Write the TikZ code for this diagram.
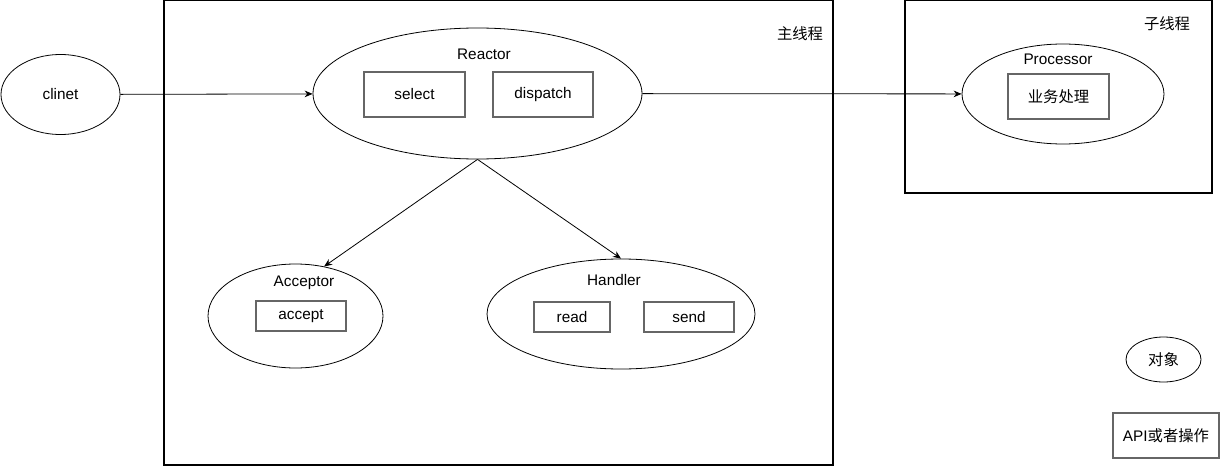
\documentclass[tikz,border=0pt]{standalone}
\usepackage{fontspec}
\setmainfont{Liberation Sans}
\newfontfamily\cjk{Noto Sans CJK SC}
\usetikzlibrary{shapes.geometric,arrows.meta}

\begin{document}
\begin{tikzpicture}[x=0.75pt,y=-0.75pt,
    every node/.style={font=\fontsize{11.5}{13}\selectfont},
    obj/.style={draw,ellipse,inner sep=0pt,line width=0.6pt},
    op/.style={draw=black!60,line width=0.9pt,inner sep=0pt},
    thread/.style={draw,line width=0.85pt},
    >={Stealth[length=6pt,width=5pt]}]
  \useasboundingbox (0,0) rectangle (1220,467);

  % threads
  \draw[thread] (164,0.6) rectangle (833,465);
  \draw[thread] (905,0.6) rectangle (1212,193);
  \node (mainlbl) at (800,34) {\cjk 主线程};
  \node (sublbl) at (1167,24) {\cjk 子线程};

  % objects
  \node[obj,minimum width=89.25pt,minimum height=60pt](clinet)at(60.5,94.5){clinet};
  \node[obj,minimum width=246.75pt,minimum height=98.25pt](reactor)at(477.5,93.5){};
  \node[obj,minimum width=151.5pt,minimum height=75pt](processor)at(1063,94){};
  \node[obj,minimum width=131.25pt,minimum height=78pt](acceptor)at(295.5,316){};
  \node[obj,minimum width=201pt,minimum height=82.5pt](handler)at(621,314){};
  \node[obj,minimum width=56.25pt,minimum height=33.75pt](legobj)at(1163.5,359.5){\cjk 对象};

  \node (reactorlbl) at (484,54) {Reactor};
  \node (processorlbl) at (1058,59) {Processor};
  \node (acceptorlbl) at (304,283) {Acceptor};
  \node (handlerlbl) at (614,280) {Handler};

  % operations
  \node[op,minimum width=75.75pt,minimum height=33.75pt](select)at(414.5,94.5){select};
  \node[op,minimum width=75pt,minimum height=33.75pt](dispatch)at(543,94.5){dispatch};
  \node[op,minimum width=75.75pt,minimum height=33.75pt](business)at(1058.5,96.5){\cjk 业务处理};
  \node[op,minimum width=67.5pt,minimum height=22.5pt](accept)at(301,316){accept};
  \node[op,minimum width=57pt,minimum height=22.5pt](read)at(572,317){read};
  \node[op,minimum width=67.5pt,minimum height=22.5pt](send)at(689,317){send};
  \node[op,minimum width=79.5pt,minimum height=33.75pt](legop)at(1166,435.5){API{\cjk 或者操作}};

  \draw[->,line width=0.6pt] (clinet) to (reactor);
  \draw[->,line width=0.6pt] (reactor) to (processor);
  \draw[->,line width=0.6pt] (reactor.south) to (acceptor.60);
  \draw[->,line width=0.6pt] (reactor.south) to (handler.north);
\end{tikzpicture}
\end{document}
